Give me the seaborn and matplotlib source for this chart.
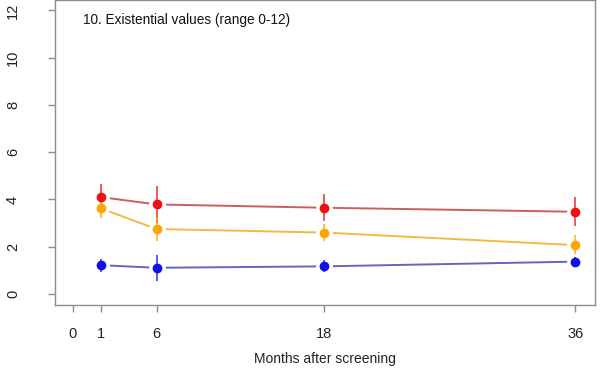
import matplotlib
matplotlib.use("Agg")
import matplotlib.pyplot as plt
import seaborn as sns
import pandas as pd
import numpy as np

# Data
months_labels = ["0", "1", "6", "18", "36"]
tick_positions = [0, 2, 6, 18, 36]
x_pos = [2, 6, 18, 36]  # plotted positions for months 1, 6, 18, 36

red_mean = [4.10, 3.79, 3.65, 3.48]
red_lo = [3.55, 3.00, 3.10, 2.88]
red_hi = [4.65, 4.58, 4.25, 4.12]

orange_mean = [3.62, 2.75, 2.60, 2.07]
orange_lo = [3.20, 2.25, 2.25, 1.70]
orange_hi = [4.00, 3.25, 2.95, 2.50]

blue_mean = [1.22, 1.11, 1.17, 1.37]
blue_lo = [0.94, 0.55, 0.92, 1.18]
blue_hi = [1.48, 1.64, 1.42, 1.56]

series = [
    ("red", red_mean, red_lo, red_hi, "#c8615e", "#ee1111"),
    ("orange", orange_mean, orange_lo, orange_hi, "#f0bb45", "#ffa500"),
    ("blue", blue_mean, blue_lo, blue_hi, "#6266bf", "#1010e8"),
]

sns.set_theme(style="white")
plt.rcParams["font.family"] = ["Liberation Sans", "DejaVu Sans"]

fig = plt.figure(figsize=(6.01, 3.74), dpi=100)
ax = fig.add_axes([0.091, 0.1845, 0.899, 0.8155])

rows = []
for name, m, lo, hi, lc, pc in series:
    for x, v in zip(x_pos, m):
        rows.append({"series": name, "x": x, "y": v})
df = pd.DataFrame(rows)

palette = {name: lc for name, m, lo, hi, lc, pc in series}
sns.lineplot(data=df, x="x", y="y", hue="series", palette=palette, ax=ax,
             legend=False, linewidth=1.4, zorder=1)

# white gaps around points (type="b" style)
for name, m, lo, hi, lc, pc in series:
    ax.plot(x_pos, m, linestyle="none", marker="o", markersize=11,
            markerfacecolor="white", markeredgecolor="white", zorder=2)

for name, m, lo, hi, lc, pc in series:
    m = np.array(m); lo = np.array(lo); hi = np.array(hi)
    ax.errorbar(x_pos, m, yerr=[m - lo, hi - m], fmt="none", ecolor=pc,
                elinewidth=1.3, alpha=0.75, zorder=3)
    ax.plot(x_pos, m, linestyle="none", marker="o", markersize=6,
            markerfacecolor=pc, markeredgecolor=pc, zorder=4)

ax.set_xlim(-1.31, 37.42)
ax.set_ylim(-0.465, 12.44)
ax.set_xticks(tick_positions)
ax.set_xticklabels(months_labels)
ax.set_yticks([0, 2, 4, 6, 8, 10, 12])
ax.set_yticklabels(["0", "2", "4", "6", "8", "10", "12"], rotation=90, va="center")

for s in ax.spines.values():
    s.set_visible(True)
    s.set_color("#8c8c8c")
    s.set_linewidth(1.0)

ax.tick_params(axis="both", which="major", direction="out", length=5,
               width=1.0, color="#8c8c8c", labelsize=10.5, labelcolor="#222222",
               bottom=True, left=True)
ax.tick_params(axis="y", pad=20)
ax.tick_params(axis="x", pad=11)

ax.set_xlabel("Months after screening", fontsize=10, color="#222222", labelpad=8)
ax.set_ylabel("")
ax.text(0.052, 0.934, "10. Existential values (range 0-12)", transform=ax.transAxes,
        fontsize=9.8, color="#111111", ha="left", va="center")

fig.savefig("out.png", dpi=100, facecolor="white")
